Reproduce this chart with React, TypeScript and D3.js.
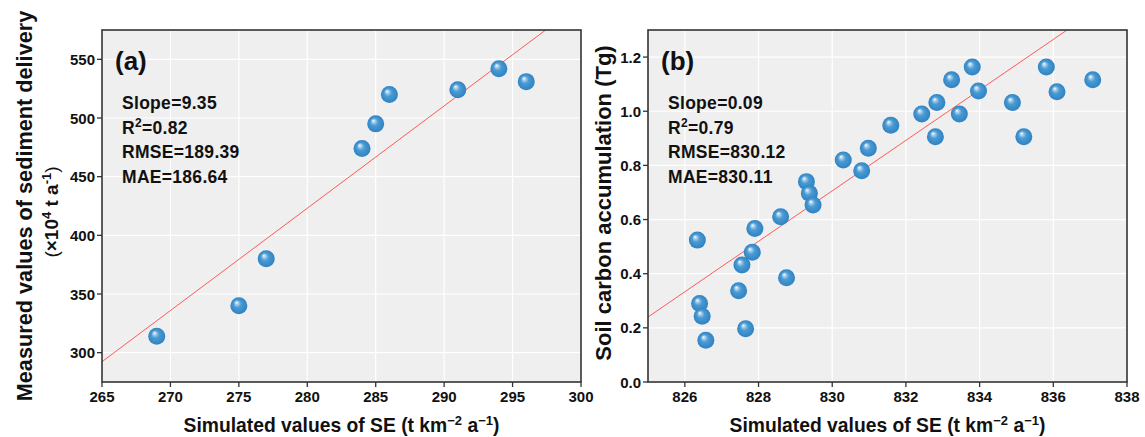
import React from "react";
import * as d3 from "d3";

// ---- Data ----
const simA = [269, 275, 277, 284, 285, 286, 291, 294, 296];
const measA = [314, 340, 380, 474, 495, 520, 524, 542, 531];
const fitA = { intercept: 292.3, slope: 8.72, x0: 265 };
const statsA = ["Slope=9.35", "R2=0.82", "RMSE=189.39", "MAE=186.64"];
const xTicksA = [265, 270, 275, 280, 285, 290, 295, 300];
const yTicksA = [300, 350, 400, 450, 500, 550];

const simB = [826.34, 826.40, 826.47, 826.57, 827.46, 827.55, 827.65, 827.83, 827.90, 828.60, 828.76, 829.30, 829.38, 829.48, 830.30, 830.80, 830.98, 831.59, 832.43, 832.84, 832.80, 833.24, 833.45, 833.80, 833.97, 834.89, 835.20, 835.81, 836.10, 837.07];
const measB = [0.524, 0.29, 0.243, 0.154, 0.337, 0.432, 0.197, 0.479, 0.567, 0.61, 0.385, 0.74, 0.697, 0.654, 0.82, 0.78, 0.863, 0.948, 0.99, 1.032, 0.906, 1.116, 0.99, 1.163, 1.075, 1.032, 0.906, 1.163, 1.072, 1.116];
const fitB = { intercept: 0.24, slope: 0.0932, x0: 825 };
const statsB = ["Slope=0.09", "R2=0.79", "RMSE=830.12", "MAE=830.11"];
const xTicksB = [826, 828, 830, 832, 834, 836, 838];
const yTicksB = [0.0, 0.2, 0.4, 0.6, 0.8, 1.0, 1.2];

const FONT = "'Liberation Sans', Arial, sans-serif";

type PanelProps = {
  id: string;
  left: number;
  right: number;
  top: number;
  bottom: number;
  xDomain: [number, number];
  yDomain: [number, number];
  xTicks: number[];
  yTicks: number[];
  yFmt: (v: number) => string;
  xs: number[];
  ys: number[];
  fit: { intercept: number; slope: number; x0: number };
  stats: string[];
  label: string;
};

function StatLine({ s, x, y }: { s: string; x: number; y: number }) {
  if (s.startsWith("R2")) {
    return (
      <text x={x} y={y}>
        R<tspan dy={-7} fontSize={12}>2</tspan>
        <tspan dy={7}>{s.slice(2)}</tspan>
      </text>
    );
  }
  return (
    <text x={x} y={y}>
      {s}
    </text>
  );
}

function Panel(p: PanelProps) {
  const x = d3.scaleLinear().domain(p.xDomain).range([p.left, p.right]);
  const y = d3.scaleLinear().domain(p.yDomain).range([p.bottom, p.top]);
  const x1 = p.xDomain[1];
  const lineData: [number, number][] = [
    [p.fit.x0, p.fit.intercept],
    [x1, p.fit.intercept + p.fit.slope * (x1 - p.fit.x0)],
  ];
  const line = d3
    .line<[number, number]>()
    .x((d) => x(d[0]))
    .y((d) => y(d[1]));
  return (
    <g>
      <defs>
        <clipPath id={"clip-" + p.id}>
          <rect x={p.left} y={p.top} width={p.right - p.left} height={p.bottom - p.top} />
        </clipPath>
      </defs>
      <rect x={p.left} y={p.top} width={p.right - p.left} height={p.bottom - p.top} fill="#efefef" />
      {p.xTicks.map((t) => (
        <line key={"gx" + t} x1={x(t)} x2={x(t)} y1={p.top} y2={p.bottom} stroke="#fff" strokeWidth={1.2} />
      ))}
      {p.yTicks.map((t) => (
        <line key={"gy" + t} x1={p.left} x2={p.right} y1={y(t)} y2={y(t)} stroke="#fff" strokeWidth={1.2} />
      ))}
      <path d={line(lineData) || ""} stroke="#ff5a5a" strokeWidth={1} fill="none" clipPath={`url(#clip-${p.id})`} />
      {p.xs.map((v, i) => (
        <circle key={i} cx={x(v)} cy={y(p.ys[i])} r={8.5} fill="url(#ballGrad)" />
      ))}
      <rect x={p.left} y={p.top} width={p.right - p.left} height={p.bottom - p.top} fill="none" stroke="#333" strokeWidth={1.6} />
      {p.xTicks.map((t) => (
        <g key={"tx" + t}>
          <line x1={x(t)} x2={x(t)} y1={p.bottom} y2={p.bottom + 5} stroke="#333" strokeWidth={1.3} />
          <text x={x(t)} y={p.bottom + 19.5} textAnchor="middle" fontSize={15} fontWeight="bold" fill="#111">
            {t}
          </text>
        </g>
      ))}
      {p.yTicks.map((t) => (
        <g key={"ty" + t}>
          <line x1={p.left - 5} x2={p.left} y1={y(t)} y2={y(t)} stroke="#333" strokeWidth={1.3} />
          <text x={p.left - 7} y={y(t) + 5.5} textAnchor="end" fontSize={15} fontWeight="bold" fill="#111">
            {p.yFmt(t)}
          </text>
        </g>
      ))}
      <text x={p.left + 13} y={p.top + 40} fontSize={26} fontWeight="bold" fill="#111">
        {p.label}
      </text>
      <g fontSize={17.5} fontWeight="bold" fill="#111" letterSpacing={0.3}>
        {p.stats.map((s, i) => (
          <StatLine key={i} s={s} x={p.left + 20} y={p.top + 79 + i * 24.7} />
        ))}
      </g>
      <text x={(p.left + p.right) / 2} y={p.bottom + 50} textAnchor="middle" fontSize={19.3} fontWeight="bold" fill="#111">
        Simulated values of SE (t km
        <tspan dy={-7} fontSize={13}>−2</tspan>
        <tspan dy={7}> a</tspan>
        <tspan dy={-7} fontSize={13}>−1</tspan>
        <tspan dy={7}>)</tspan>
      </text>
    </g>
  );
}

export default function App() {
  const top = 30;
  const bottom = 382;
  return (
    <svg
      width={1145}
      height={437}
      style={{ position: "absolute", left: 0, top: 0, background: "#fff" }}
      fontFamily={FONT}
    >
      <defs>
        <radialGradient id="ballGrad" cx="50%" cy="50%" r="50%" fx="35%" fy="30%">
          <stop offset="0%" stopColor="#ffffff" />
          <stop offset="18%" stopColor="#a9d0ee" />
          <stop offset="45%" stopColor="#4a9bd3" />
          <stop offset="100%" stopColor="#2f82c2" />
        </radialGradient>
      </defs>
      <Panel
        id="a"
        left={102}
        right={581}
        top={top}
        bottom={bottom}
        xDomain={[265, 300]}
        yDomain={[275, 575]}
        xTicks={xTicksA}
        yTicks={yTicksA}
        yFmt={(v) => String(v)}
        xs={simA}
        ys={measA}
        fit={fitA}
        stats={statsA}
        label="(a)"
      />
      <Panel
        id="b"
        left={648}
        right={1127}
        top={top}
        bottom={bottom}
        xDomain={[825, 838]}
        yDomain={[0, 1.3]}
        xTicks={xTicksB}
        yTicks={yTicksB}
        yFmt={(v) => v.toFixed(1)}
        xs={simB}
        ys={measB}
        fit={fitB}
        stats={statsB}
        label="(b)"
      />
      <text transform="translate(32,206) rotate(-90)" textAnchor="middle" fontSize={21.7} fontWeight="bold" fill="#111">
        Measured values of sediment delivery
      </text>
      <text transform="translate(58,212) rotate(-90)" textAnchor="middle" fontSize={19} fontWeight="bold" fill="#111">
        <tspan fontWeight="normal">(</tspan>×10
        <tspan dy={-7} fontSize={13}>4</tspan>
        <tspan dy={7}> t a</tspan>
        <tspan dy={-7} fontSize={13}>-1</tspan>
        <tspan dy={7} fontWeight="normal">)</tspan>
      </text>
      <text transform="translate(611,203) rotate(-90)" textAnchor="middle" fontSize={22} fontWeight="bold" fill="#111">
        Soil carbon accumulation (Tg)
      </text>
    </svg>
  );
}
